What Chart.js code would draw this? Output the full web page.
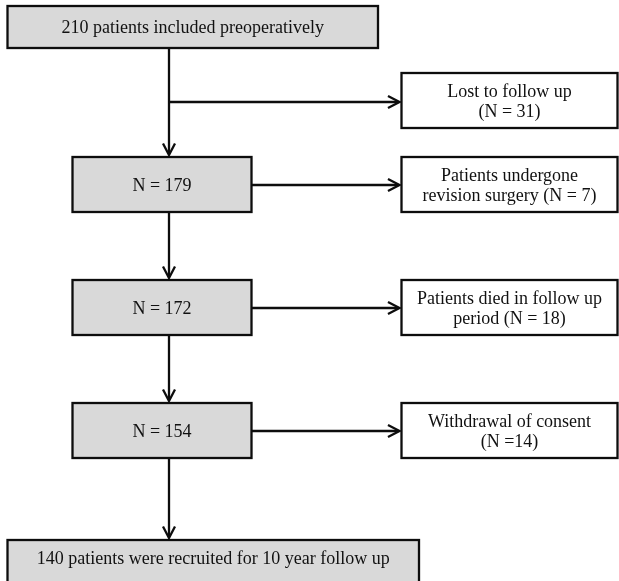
<!DOCTYPE html>
<html>
<head>
<meta charset="utf-8">
<script src="https://cdn.jsdelivr.net/npm/chart.js@4.4.1/dist/chart.umd.min.js"></script>
<style>
html, body { margin: 0; padding: 0; background: #fff; }
</style>
</head>
<body>
<canvas id="flowChart" width="619" height="581"></canvas>
<script>
// patients remaining at each stage (top to bottom)
const stageCounts = [210, 179, 172, 154, 140];
const stageLabels = [
  "210 patients included preoperatively",
  "N = 179",
  "N = 172",
  "N = 154",
  "140 patients were recruited for 10 year follow up"
];

// patients leaving the study between stages
const exitCounts = [31, 7, 18, 14];
const exitLabels = [
  ["Lost to follow up", "(N = 31)"],
  ["Patients undergone", "revision surgery (N = 7)"],
  ["Patients died in follow up", "period (N = 18)"],
  ["Withdrawal of consent", "(N =14)"]
];

// layout, in axis units (x 0..619, y 0..581 top down)
const stageBoxes = [
  [7.5, 378, 6, 48],
  [72.5, 251.5, 157, 212],
  [72.5, 251.5, 280, 335],
  [72.5, 251.5, 403, 458],
  [7.5, 419, 540, 583]
];
const exitBoxes = [
  [401.5, 617.5, 73, 128],
  [401.5, 617.5, 157, 212],
  [401.5, 617.5, 280, 335],
  [401.5, 617.5, 403, 458]
];
const trunkX = 169;
const exitArrowY = [102, 185, 308, 431];

const flowPlugin = {
  id: "flow",
  afterDatasetsDraw(chart) {
    const ctx = chart.ctx;
    const sx = chart.scales.x, sy = chart.scales.y;
    const px = v => sx.getPixelForValue(v);
    const py = v => sy.getPixelForValue(v);

    ctx.save();
    ctx.lineWidth = 2.3;
    ctx.strokeStyle = "#0d0d0d";
    ctx.lineCap = "butt";
    ctx.lineJoin = "miter";

    function arrow(x0, y0, x1, y1) {
      const a = Math.atan2(y1 - y0, x1 - x0);
      const c = Math.cos(a), s = Math.sin(a);
      ctx.beginPath();
      ctx.moveTo(x0, y0);
      ctx.lineTo(x1 - c, y1 - s);
      ctx.stroke();
      ctx.beginPath();
      ctx.moveTo(x1 - 13 * Math.cos(a - 0.48), y1 - 13 * Math.sin(a - 0.48));
      ctx.lineTo(x1, y1);
      ctx.lineTo(x1 - 13 * Math.cos(a + 0.48), y1 - 13 * Math.sin(a + 0.48));
      ctx.stroke();
    }

    function box(b, fill) {
      const x = px(b[0]), y = py(b[2]);
      const w = px(b[1]) - x, h = py(b[3]) - y;
      ctx.fillStyle = fill;
      ctx.fillRect(x, y, w, h);
      ctx.strokeRect(x, y, w, h);
    }

    // vertical arrows between stages
    for (let i = 0; i < stageBoxes.length - 1; i++) {
      arrow(px(trunkX), py(stageBoxes[i][3]), px(trunkX), py(stageBoxes[i + 1][2]) - 2);
    }
    // side arrows to the exits
    exitArrowY.forEach((y, i) => {
      const from = i === 0 ? trunkX : stageBoxes[i][1];
      arrow(px(from), py(y), px(exitBoxes[i][0]) - 2, py(y));
    });

    ctx.font = "18px 'Liberation Serif', 'Times New Roman', serif";
    ctx.textAlign = "center";
    ctx.textBaseline = "middle";

    stageBoxes.forEach((b, i) => {
      box(b, "#d9d9d9");
      ctx.fillStyle = "#111";
      const cy = i === stageBoxes.length - 1 ? py(b[2]) + 19 : (py(b[2]) + py(b[3])) / 2 + 1.5;
      ctx.fillText(stageLabels[i], (px(b[0]) + px(b[1])) / 2, cy);
    });

    exitBoxes.forEach((b, i) => {
      box(b, "#ffffff");
      ctx.fillStyle = "#111";
      const cx = (px(b[0]) + px(b[1])) / 2;
      const cy = (py(b[2]) + py(b[3])) / 2 + 2;
      exitLabels[i].forEach((line, k) => {
        ctx.fillText(line, cx, cy + (k - 0.5) * 20);
      });
    });
    ctx.restore();
  }
};

new Chart("flowChart", {
  type: "scatter",
  data: {
    datasets: [{
      data: stageCounts.map((n, i) => ({ x: trunkX, y: stageBoxes[i][2] })),
      pointRadius: 0
    }]
  },
  options: {
    responsive: false,
    animation: false,
    layout: { padding: 0 },
    scales: {
      x: { type: "linear", min: 0, max: 619, display: false },
      y: { type: "linear", min: 0, max: 581, reverse: true, display: false }
    },
    plugins: {
      legend: { display: false },
      tooltip: { enabled: false }
    }
  },
  plugins: [flowPlugin]
});
</script>
</body>
</html>
